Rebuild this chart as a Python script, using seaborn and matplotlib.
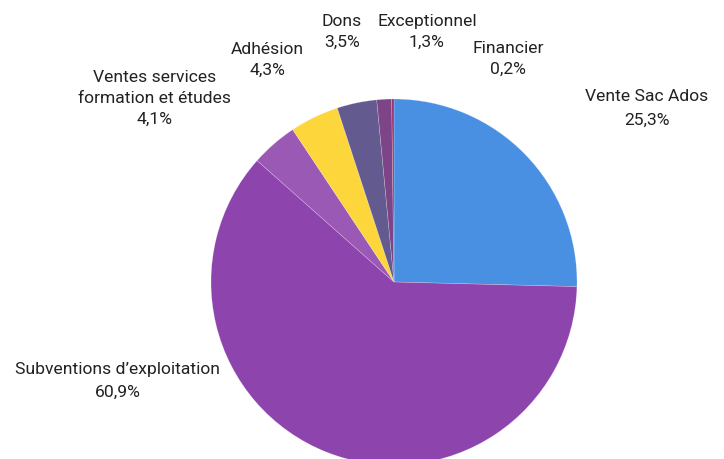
import matplotlib
import matplotlib.pyplot as plt
import seaborn as sns

sns.set_theme(style="white")
plt.rcParams["font.family"] = ["Roboto", "DejaVu Sans"]

# data
categories = [
    "Vente Sac Ados",
    "Subventions d\u2019exploitation",
    "Ventes services\nformation et études",
    "Adhésion",
    "Dons",
    "Exceptionnel",
    "Financier",
]
shares = [25.3, 60.9, 4.1, 4.3, 3.5, 1.3, 0.2]
colors = ["#4a90e2", "#8e44ad", "#9b59b6", "#fdd63c", "#635a8f", "#7d4488", "#a0306e"]

# label anchor positions, in pie radius units
label_pos = [
    (1.38, 0.95),
    (-1.51, -0.54),
    (-1.31, 1.005),
    (-0.69, 1.213),
    (-0.284, 1.366),
    (0.18, 1.366),
    (0.623, 1.219),
]

fig = plt.figure(figsize=(7.24, 4.59), dpi=100)
ax = fig.add_axes([0, 0, 1, 1])
ax.pie(
    shares,
    colors=colors,
    startangle=90,
    counterclock=False,
    wedgeprops={"linewidth": 0.4, "edgecolor": "#ffffff55"},
)
ax.set_xlim(-394 / 183, (724 - 394) / 183)
ax.set_ylim(-(459 - 282) / 183, 282 / 183)
ax.set_aspect("equal", adjustable="datalim")
ax.axis("off")

for name, val, (x, y) in zip(categories, shares, label_pos):
    sp = 1.7 if name in ("Vente Sac Ados", categories[1]) else 1.5
    ax.text(
        x,
        y,
        f"{name}\n{val:.1f}%".replace(".", ","),
        ha="center",
        va="center",
        fontsize=12.6,
        color="#222222",
        linespacing=sp,
    )

fig.savefig("out.png", dpi=100)
